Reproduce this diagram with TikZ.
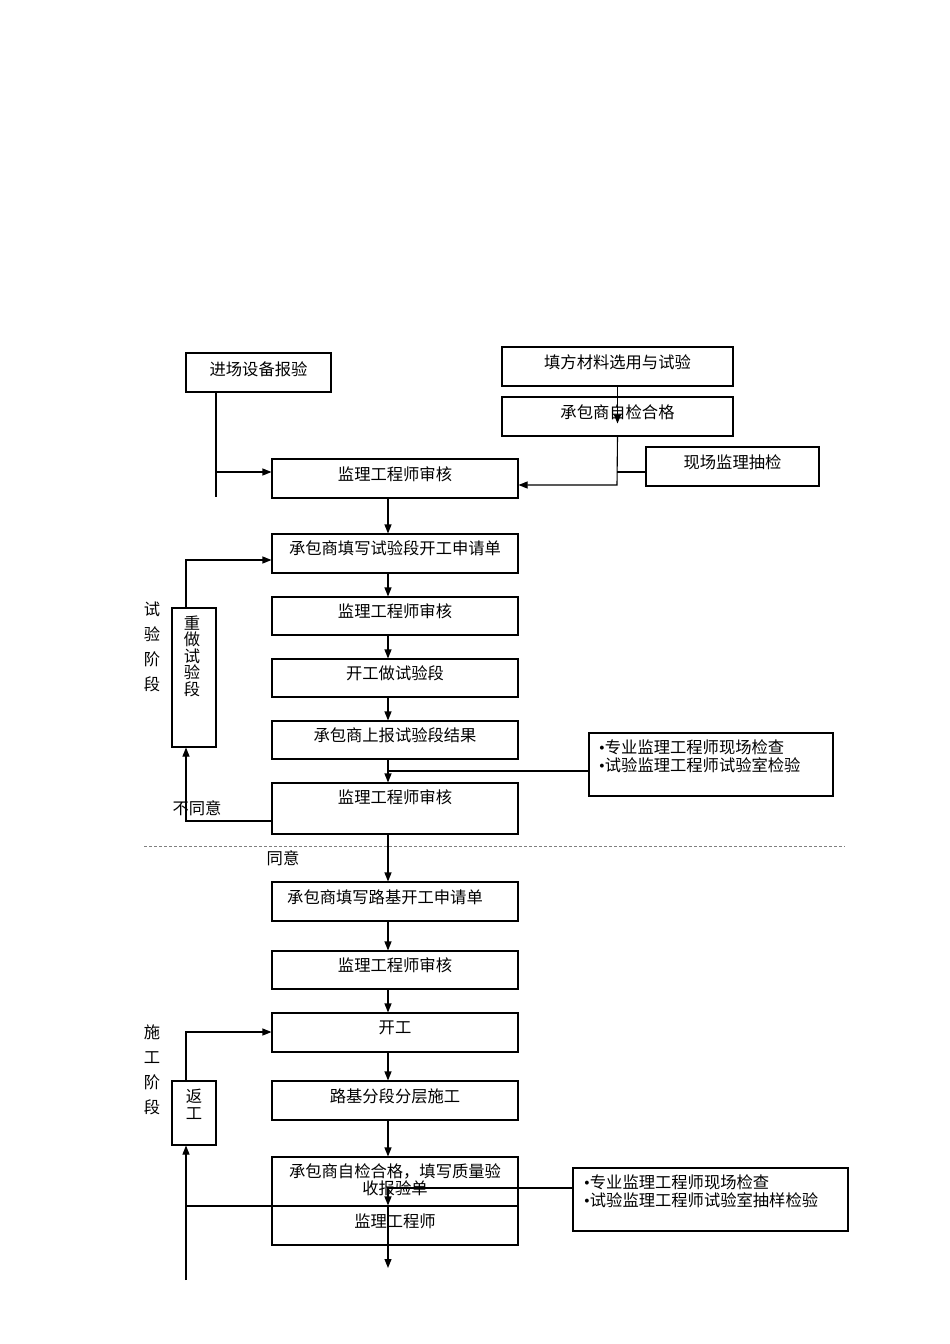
\documentclass[tikz,border=0pt]{standalone}
\usepackage{fontspec}
\setmainfont{Noto Sans CJK SC}
\newfontfamily\latf{Liberation Serif}
\newcommand{\bul}{{\latf •}}
\usetikzlibrary{arrows.meta}
\begin{document}
\begin{tikzpicture}[x=1pt,y=-1pt,
  box/.style={draw, line width=1.1pt, inner sep=0pt},
  txt/.style={inner sep=0pt, font=\fontsize{16.3}{19}\selectfont},
  arr/.style={-{Triangle[length=9pt,width=7pt]}, line width=1.1pt},
  ln/.style={line width=1.1pt}]
\useasboundingbox (0,0) rectangle (950,1344);
\fill[white] (0,0) rectangle (950,1344);
\coordinate (ax) at (388,0);
\coordinate (lx) at (186,0);
% top boxes
\node[box, minimum width=145, minimum height=39] (jc) at (258.5,372.5) {};
\node[txt] at (258.5,369) {进场设备报验};
\node[box, minimum width=231, minimum height=39] (tf) at (617.5,366.5) {};
\node[txt] at (617.5,362) {填方材料选用与试验};
\node[box, minimum width=231, minimum height=39] (cb) at (617.5,416.5) {};
\node[txt] at (617.5,412) {承包商自检合格};
\node[box, minimum width=173, minimum height=39] (xc) at (732.5,466.5) {};
\node[txt] at (732.5,462) {现场监理抽检};
% main column
\node[box, minimum width=246, minimum height=39] (s1) at (395,478.5) {};
\node[txt] at (395,474) {监理工程师审核};
\node[box, minimum width=246, minimum height=39] (s2) at (395,553.5) {};
\node[txt] at (395,548) {承包商填写试验段开工申请单};
\node[box, minimum width=246, minimum height=38] (s3) at (395,616) {};
\node[txt] at (395,611) {监理工程师审核};
\node[box, minimum width=246, minimum height=38] (s4) at (395,678) {};
\node[txt] at (395,673) {开工做试验段};
\node[box, minimum width=246, minimum height=38] (s5) at (395,740) {};
\node[txt] at (395,735) {承包商上报试验段结果};
\node[box, minimum width=246, minimum height=51] (s6) at (395,808.5) {};
\node[txt] at (395,797) {监理工程师审核};
\node[box, minimum width=244, minimum height=63] (r1) at (711,764.5) {};
\node[txt, anchor=west, align=left] at (599,756) {\bul 专业监理工程师现场检查\\[-1pt]\bul 试验监理工程师试验室检验};
\node[box, minimum width=44, minimum height=139] (cz) at (194,677.5) {};
\node[txt, align=center] at (192,656) {重\\[-2.5pt]做\\[-2.5pt]试\\[-2.5pt]验\\[-2.5pt]段};
\node[txt, align=center, font=\fontsize{16.3}{25}\selectfont] at (152,647) {试\\验\\阶\\段};
\node[txt] at (197,808) {不同意};
\node[txt] at (283,858) {同意};
\draw[dashed, dash pattern=on 3pt off 2pt, line width=1pt, gray] (144,846) -- (845,846);
% second stage
\node[box, minimum width=246, minimum height=39] (t1) at (395,901.5) {};
\node[txt] at (385,897) {承包商填写路基开工申请单};
\node[box, minimum width=246, minimum height=38] (t2) at (395,970) {};
\node[txt] at (395,965) {监理工程师审核};
\node[box, minimum width=246, minimum height=39] (t3) at (395,1032.5) {};
\node[txt] at (395,1028) {开工};
\node[box, minimum width=246, minimum height=39] (t4) at (395,1100.5) {};
\node[txt] at (395,1096) {路基分段分层施工};
\node[box, minimum width=246, minimum height=49] (t5) at (395,1181.5) {};
\node[txt, align=center] at (395,1179.5) {承包商自检合格，填写质量验\\[-2pt]收报验单};
\node[box, minimum width=246, minimum height=39] (t6) at (395,1225.5) {};
\node[txt] at (395,1221) {监理工程师};
\node[box, minimum width=275, minimum height=63] (r2) at (710.5,1199.5) {};
\node[txt, anchor=west, align=left] at (584,1191.5) {\bul 专业监理工程师现场检查\\[-1pt]\bul 试验监理工程师试验室抽样检验};
\node[box, minimum width=44, minimum height=64] (fg) at (194,1113) {};
\node[txt, align=center] at (194,1104.5) {返\\[-2.5pt]工};
\node[txt, align=center, font=\fontsize{16.3}{25}\selectfont] at (152,1070) {施\\工\\阶\\段};
\coordinate (endA) at (388,1268);
\coordinate (endL) at (186,1280);
% connectors top
\draw[arr] (tf.south) -- ++(0,37);
\draw[ln] (jc.south -| 216,0) -- (216,497);
\draw[arr] (216,472) -- (s1.west |- 216,472);
\draw[arr] (cb.south) -- (617,485) -- (s1.east |- 0,485);
\draw[ln] (xc.west |- 0,472) -- (617,472);
% main arrows
\draw[arr] (s1.south -| ax) -- (s2.north -| ax);
\draw[arr] (s2.south -| ax) -- (s3.north -| ax);
\draw[arr] (s3.south -| ax) -- (s4.north -| ax);
\draw[arr] (s4.south -| ax) -- (s5.north -| ax);
\draw[arr] (s5.south -| ax) -- (s6.north -| ax);
\draw[ln] (r1.west |- 0,771) -- (388,771);
\draw[arr] (s6.west |- 0,821) -- (186,821) -- (cz.south -| lx);
\draw[arr] (cz.north -| lx) -- (186,560) -- (s2.west |- 0,560);
\draw[arr] (s6.south -| ax) -- (t1.north -| ax);
\draw[arr] (t1.south -| ax) -- (t2.north -| ax);
\draw[arr] (t2.south -| ax) -- (t3.north -| ax);
\draw[arr] (t3.south -| ax) -- (t4.north -| ax);
\draw[arr] (t4.south -| ax) -- (t5.north -| ax);
\draw[arr] (r2.west |- 0,1188) -- (388,1188) -- (t6.north -| ax);
\draw[arr] (t6.north -| ax) -- (endA);
\draw[ln] (t6.west |- 0,1206) -- (186,1206);
\draw[arr] (endL) -- (fg.south -| lx);
\draw[arr] (fg.north -| lx) -- (186,1032) -- (t3.west |- 0,1032);
\end{tikzpicture}
\end{document}
